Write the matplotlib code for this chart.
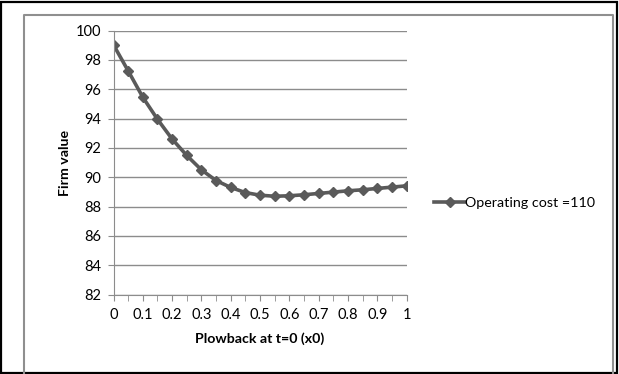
import matplotlib.pyplot as plt
from matplotlib.patches import Rectangle
from matplotlib.ticker import MultipleLocator

plt.rcParams['font.family'] = ['Lato', 'DejaVu Sans']

# plowback fraction and resulting firm value
plowback = [0, 0.05, 0.1, 0.15, 0.2, 0.25, 0.3, 0.35, 0.4, 0.45, 0.5,
            0.55, 0.6, 0.65, 0.7, 0.75, 0.8, 0.85, 0.9, 0.95, 1.0]
firm_value = [99.02, 97.25, 95.45, 93.95, 92.6, 91.48, 90.5, 89.77, 89.3, 88.95, 88.77,
              88.7, 88.73, 88.8, 88.89, 88.98, 89.07, 89.14, 89.23, 89.32, 89.41]
x_ticks = [0, 0.1, 0.2, 0.3, 0.4, 0.5, 0.6, 0.7, 0.8, 0.9, 1.0]
x_ticklabels = ['0', '0.1', '0.2', '0.3', '0.4', '0.5', '0.6', '0.7', '0.8', '0.9', '1']
series_name = 'Operating cost =110'

W, H = 619, 374
fig = plt.figure(figsize=(W / 100, H / 100), dpi=100)

left, right, top, bottom = 113.5, 406.5, 30.5, 294.5
ax = fig.add_axes([left / W, 1 - bottom / H, (right - left) / W, (bottom - top) / H])

ax.plot(plowback, firm_value, color='#5a5a5a', linewidth=2.6, marker='D', markersize=5,
        label=series_name)

ax.set_xlim(0, 1)
ax.set_ylim(82, 100)
ax.set_xticks(x_ticks)
ax.set_xticklabels(x_ticklabels)
ax.xaxis.set_minor_locator(MultipleLocator(0.05))
ax.yaxis.set_major_locator(MultipleLocator(2))
ax.grid(axis='y', color='#8c8c8c', linewidth=1)
ax.set_axisbelow(True)
for s in ['top', 'right']:
    ax.spines[s].set_visible(False)
for s in ['left', 'bottom']:
    ax.spines[s].set_color('#8c8c8c')
ax.tick_params(axis='both', which='both', direction='out', color='#8c8c8c', labelsize=10.5)
ax.tick_params(axis='x', which='both', length=4)
ax.tick_params(axis='y', length=4, pad=5)
ax.tick_params(axis='x', pad=6)

ax.set_xlabel('Plowback at t=0 (x0)', fontsize=10.2, fontweight='bold', labelpad=7)
ax.set_ylabel('Firm value', fontsize=10.2, fontweight='bold', labelpad=3)

ax.legend(loc='center left', bbox_to_anchor=(1.05, 0.347), frameon=False, fontsize=10.3,
          handlelength=2.2, handletextpad=0.0)

# inner gray chart border, open at the bottom (cropped), in pixel coordinates
bx0, bx1, by = 23.5, 612.5, 14.5
fig.lines.append(plt.Line2D([bx0 / W, bx0 / W, bx1 / W, bx1 / W],
                            [0.0, 1 - by / H, 1 - by / H, 0.0],
                            transform=fig.transFigure, figure=fig,
                            color='#8f8f8f', linewidth=1.5))

# outer black frame
fig.add_artist(Rectangle((1 / W, 1 / H), (W - 3) / W, (H - 3) / H, transform=fig.transFigure,
                         fill=False, edgecolor='black', linewidth=1.6))

fig.savefig('out.png', dpi=100)
